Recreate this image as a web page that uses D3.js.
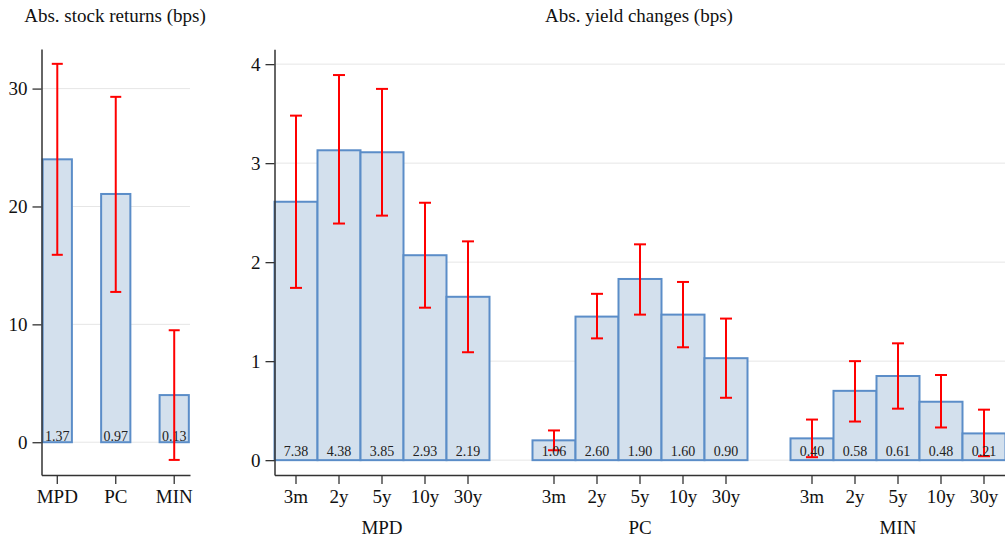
<!DOCTYPE html>
<html><head><meta charset="utf-8">
<script src="https://cdn.jsdelivr.net/npm/d3@7"></script>
<style>
body{margin:0;background:#fff;}
svg, svg text{font-family:"Liberation Serif","Times New Roman",serif !important;}
svg{display:block;}
</style></head>
<body>
<svg id="chart" width="1005" height="542"></svg>
<script>
// ---- Data ----
const stockCats = ["MPD", "PC", "MIN"];
const stockMean = [24.0, 21.06, 4.0];
const stockLow = [15.9, 12.75, -1.5];
const stockHigh = [32.1, 29.3, 9.5];
const stockLabels = ["1.37", "0.97", "0.13"];
const stockTicks = [0, 10, 20, 30];

const groups = ["MPD", "PC", "MIN"];
const tenors = ["3m", "2y", "5y", "10y", "30y"];
const yieldMeanMPD = [2.61, 3.13, 3.11, 2.07, 1.65];
const yieldMeanPC = [0.20, 1.45, 1.83, 1.47, 1.03];
const yieldMeanMIN = [0.22, 0.70, 0.85, 0.59, 0.27];
const yieldLowMPD = [1.74, 2.39, 2.47, 1.54, 1.09];
const yieldLowPC = [0.10, 1.23, 1.47, 1.14, 0.63];
const yieldLowMIN = [0.03, 0.39, 0.52, 0.33, 0.04];
const yieldHighMPD = [3.48, 3.89, 3.75, 2.60, 2.21];
const yieldHighPC = [0.30, 1.68, 2.18, 1.80, 1.43];
const yieldHighMIN = [0.41, 1.00, 1.18, 0.86, 0.51];
const yieldLabelsMPD = ["7.38", "4.38", "3.85", "2.93", "2.19"];
const yieldLabelsPC = ["1.06", "2.60", "1.90", "1.60", "0.90"];
const yieldLabelsMIN = ["0.40", "0.58", "0.61", "0.48", "0.21"];
const yieldTicks = [0, 1, 2, 3, 4];

// ---- Styles ----
const FILL = "#d3e0ed", STROKE = "#5b8dc8", ERR = "#ff0000", AXIS = "#333", GRID = "#e6e6e6";
const FONT = "'Liberation Serif', 'Times New Roman', serif";
const svg = d3.select("#chart");

function styleAxis(g) {
  g.attr("font-family", FONT).attr("font-size", 19);
  g.selectAll(".domain").attr("stroke", AXIS).attr("stroke-width", 1.5);
  g.selectAll(".tick line").attr("stroke", AXIS).attr("stroke-width", 1.3);
  g.selectAll(".tick text").attr("fill", "#111").style("font-size", "19px");
}

function errorBars(g, data, cx, y, cap) {
  g.selectAll(".ev").data(data).join("line")
    .attr("x1", cx).attr("x2", cx).attr("y1", d => y(d.lo)).attr("y2", d => y(d.hi))
    .attr("stroke", ERR).attr("stroke-width", 2);
  g.selectAll(".ct").data(data).join("line")
    .attr("x1", d => cx(d) - cap).attr("x2", d => cx(d) + cap).attr("y1", d => y(d.hi)).attr("y2", d => y(d.hi))
    .attr("stroke", ERR).attr("stroke-width", 2);
  g.selectAll(".cb").data(data).join("line")
    .attr("x1", d => cx(d) - cap).attr("x2", d => cx(d) + cap).attr("y1", d => y(d.lo)).attr("y2", d => y(d.lo))
    .attr("stroke", ERR).attr("stroke-width", 2);
}

// ================= Left panel: stock returns =================
{
  const L = {x0: 41.5, x1: 190, y0: 475, y1: 49.1};
  const x = d3.scaleBand().domain(stockCats).range([L.x0, L.x1]).paddingInner(0.5).paddingOuter(0.02);
  const y = d3.scaleLinear().domain([-2.78, 33.35]).range([L.y0, L.y1]);
  const g = svg.append("g");

  g.selectAll(".grid").data(stockTicks).join("line")
    .attr("x1", L.x0).attr("x2", L.x1).attr("y1", d => y(d)).attr("y2", d => y(d))
    .attr("stroke", GRID).attr("stroke-width", 1);

  const data = stockCats.map((c, i) => ({c, m: stockMean[i], lo: stockLow[i], hi: stockHigh[i], lab: stockLabels[i]}));

  g.selectAll(".bar").data(data).join("rect")
    .attr("x", d => x(d.c)).attr("width", x.bandwidth())
    .attr("y", d => y(d.m)).attr("height", d => y(0) - y(d.m))
    .attr("fill", FILL).attr("stroke", STROKE).attr("stroke-width", 2);

  g.selectAll(".vlab").data(data).join("text")
    .attr("x", d => x(d.c) + x.bandwidth() / 2).attr("y", y(0) - 1)
    .attr("text-anchor", "middle").style("font-size", "14px").attr("fill", "#222")
    .text(d => d.lab);

  errorBars(g, data, d => x(d.c) + x.bandwidth() / 2, y, 5.5);

  const ya = g.append("g").attr("transform", `translate(${L.x0},0)`)
    .call(d3.axisLeft(y).tickValues(stockTicks).tickFormat(d3.format("d")).tickSize(9).tickSizeOuter(0).tickPadding(5));
  styleAxis(ya);
  const xa = g.append("g").attr("transform", `translate(0,${L.y0})`)
    .call(d3.axisBottom(x).tickSize(9).tickSizeOuter(0).tickPadding(6));
  styleAxis(xa);

  svg.append("text").attr("x", 115).attr("y", 22).attr("text-anchor", "middle")
    .style("font-size", "19px").attr("fill", "#111").text("Abs. stock returns (bps)");
}

// ================= Right panel: yield changes =================
{
  const R = {x0: 274.5, x1: 1005.5, y0: 475, y1: 49.3};
  const means = {MPD: yieldMeanMPD, PC: yieldMeanPC, MIN: yieldMeanMIN};
  const lows = {MPD: yieldLowMPD, PC: yieldLowPC, MIN: yieldLowMIN};
  const highs = {MPD: yieldHighMPD, PC: yieldHighPC, MIN: yieldHighMIN};
  const labs = {MPD: yieldLabelsMPD, PC: yieldLabelsPC, MIN: yieldLabelsMIN};

  const slots = [];
  groups.forEach((gname, gi) => {
    tenors.forEach(t => slots.push(gname + "|" + t));
    if (gi < groups.length - 1) slots.push("gap" + gi);
  });
  const x = d3.scaleBand().domain(slots).range([R.x0, R.x1]).padding(0);
  const y = d3.scaleLinear().domain([-0.15, 4.15]).range([R.y0, R.y1]);
  const g = svg.append("g");

  g.selectAll(".grid").data(yieldTicks).join("line")
    .attr("x1", R.x0).attr("x2", R.x1).attr("y1", d => y(d)).attr("y2", d => y(d))
    .attr("stroke", GRID).attr("stroke-width", 1);

  const data = [];
  groups.forEach(gname => tenors.forEach((t, i) => data.push({
    key: gname + "|" + t, m: means[gname][i], lo: lows[gname][i], hi: highs[gname][i], lab: labs[gname][i]
  })));

  g.selectAll(".bar").data(data).join("rect")
    .attr("x", d => x(d.key)).attr("width", x.bandwidth())
    .attr("y", d => y(d.m)).attr("height", d => y(0) - y(d.m))
    .attr("fill", FILL).attr("stroke", STROKE).attr("stroke-width", 2);

  const cx = d => x(d.key) + x.bandwidth() / 2;
  errorBars(g, data, cx, y, 6);

  g.selectAll(".vlab").data(data).join("text")
    .attr("x", cx).attr("y", y(0) - 4.5)
    .attr("text-anchor", "middle").style("font-size", "14px").attr("fill", "#222")
    .text(d => d.lab);

  const ya = g.append("g").attr("transform", `translate(${R.x0},0)`)
    .call(d3.axisLeft(y).tickValues(yieldTicks).tickFormat(d3.format("d")).tickSize(9).tickSizeOuter(0).tickPadding(5));
  styleAxis(ya);
  const xa = g.append("g").attr("transform", `translate(0,${R.y0})`)
    .call(d3.axisBottom(x).tickValues(data.map(d => d.key)).tickFormat(k => k.split("|")[1])
      .tickSize(9).tickSizeOuter(0).tickPadding(6));
  styleAxis(xa);

  g.selectAll(".glab").data(groups).join("text")
    .attr("x", gname => x(gname + "|" + tenors[2]) + x.bandwidth() / 2).attr("y", 534)
    .attr("text-anchor", "middle").style("font-size", "19px").attr("fill", "#111")
    .text(gname => gname);

  svg.append("text").attr("x", 639).attr("y", 22).attr("text-anchor", "middle")
    .style("font-size", "19px").attr("fill", "#111").text("Abs. yield changes (bps)");
}
</script>
</body></html>
